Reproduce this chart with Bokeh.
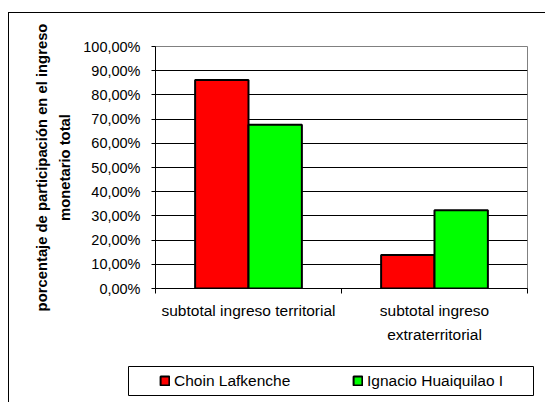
from bokeh.plotting import figure
from bokeh.layouts import column
from bokeh.models import Range1d, FixedTicker, Legend, LegendItem, ColumnDataSource
from bokeh.embed import file_html
from bokeh.resources import INLINE

# ---- data ----
categories = ["subtotal ingreso territorial", "subtotal ingreso\nextraterritorial"]
series_names = ["Choin Lafkenche", "Ignacio Huaiquilao I"]
series_colors = ["#FF0000", "#00FF00"]
choin = [86.2, 13.8]
ignacio = [67.7, 32.3]
y_ticks = [0, 10, 20, 30, 40, 50, 60, 70, 80, 90, 100]
y_tick_labels = ["0,00%", "10,00%", "20,00%", "30,00%", "40,00%", "50,00%",
                 "60,00%", "70,00%", "80,00%", "90,00%", "100,00%"]
y_label = "porcentaje de participación en el ingreso\nmonetario total"

FONT = "Liberation Sans"
bar_w = 0.287
off = 0.1435

# ---- main chart ----
p = figure(width=536, height=337, output_backend="svg", toolbar_location=None,
           x_range=Range1d(0, len(categories)), y_range=Range1d(0, 100),
           min_border_left=146, min_border_right=18, min_border_top=33,
           min_border_bottom=62)
p.frame_align = False
p.background_fill_color = "white"
p.border_fill_color = "white"
p.outline_line_color = "#808080"
p.outline_line_width = 1

centers = [i + 0.5 for i in range(len(categories))]
src = ColumnDataSource(dict(
    x1=[c - off for c in centers], x2=[c + off for c in centers],
    choin=choin, ignacio=ignacio))

p.vbar(x="x1", top="choin", width=bar_w, bottom=0, source=src,
       fill_color=series_colors[0], line_color="black", line_width=2)
p.vbar(x="x2", top="ignacio", width=bar_w, bottom=0, source=src,
       fill_color=series_colors[1], line_color="black", line_width=2)

xa = p.xaxis[0]
xa.ticker = FixedTicker(ticks=centers, minor_ticks=list(range(len(categories) + 1)))
xa.major_label_overrides = {c: lab for c, lab in zip(centers, categories)}
xa.major_tick_out = 0
xa.major_tick_in = 0
xa.minor_tick_out = 5
xa.minor_tick_in = 0
xa.minor_tick_line_color = "black"
xa.axis_line_color = "black"
xa.major_label_text_font = FONT
xa.major_label_text_font_size = "15.5px"
xa.major_label_text_color = "black"
xa.major_label_text_line_height = 1.42
xa.major_label_standoff = 8
p.xgrid.visible = False

ya = p.yaxis[0]
ya.ticker = FixedTicker(ticks=y_ticks)
ya.major_label_overrides = {t: lab for t, lab in zip(y_ticks, y_tick_labels)}
ya.major_tick_out = 4
ya.major_tick_in = 0
ya.major_tick_line_color = "black"
ya.minor_tick_line_color = None
ya.axis_line_color = "black"
ya.major_label_text_font = FONT
ya.major_label_text_font_size = "14.5px"
ya.major_label_text_color = "black"
ya.major_label_standoff = 11
ya.axis_label = y_label
ya.axis_label_text_font = FONT
ya.axis_label_text_font_size = "14.8px"
ya.axis_label_text_font_style = "bold"
ya.axis_label_text_color = "black"
ya.axis_label_text_line_height = 1.45
ya.axis_label_standoff = 7
p.ygrid.grid_line_color = "black"
p.ygrid.grid_line_width = 1

# ---- legend strip (its frame is the legend box) ----
p2 = figure(width=536, height=52, output_backend="svg", toolbar_location=None,
            x_range=Range1d(0, 1), y_range=Range1d(0, 1),
            x_axis_type=None, y_axis_type=None,
            min_border_left=119, min_border_right=12, min_border_top=16,
            min_border_bottom=7)
p2.frame_align = False
p2.grid.visible = False
p2.outline_line_color = "black"
p2.outline_line_width = 1
p2.background_fill_color = "white"
p2.border_fill_color = "white"

# legend-only renderers (hidden) that share the series' styles and data
lr = [p2.vbar(x=xcol, top=ycol, width=bar_w, bottom=0, source=src, visible=False,
              fill_color=col, line_color="black", line_width=2)
      for xcol, ycol, col in zip(["x1", "x2"], ["choin", "ignacio"], series_colors)]

legend = Legend(items=[LegendItem(label=n, renderers=[r]) for n, r in zip(series_names, lr)],
                orientation="horizontal", location=(31, 4.5),
                border_line_color=None, background_fill_alpha=0,
                inactive_fill_alpha=0,
                padding=0, margin=0, spacing=38, glyph_width=11, glyph_height=11,
                label_standoff=4, label_width=140, label_height=20,
                label_text_font=FONT, label_text_font_size="15.5px",
                label_text_color="black")
p2.add_layout(legend, "center")

layout = column(p, p2, spacing=0, margin=(12, 0, 0, 8),
                styles={"border-left": "1px solid black", "border-top": "1px solid black"})

open("out.html", "w").write(file_html(layout, INLINE))
